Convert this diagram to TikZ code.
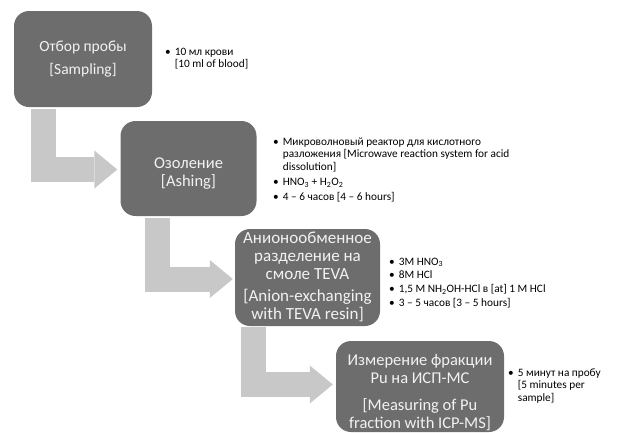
\documentclass[tikz,border=0pt]{standalone}
\usepackage{fontspec}
\setmainfont{Carlito}
\usetikzlibrary{arrows.meta,calc}
\definecolor{boxgray}{HTML}{6D6D6D}
\definecolor{arrowgray}{HTML}{C8C8C8}
\definecolor{boxtext}{HTML}{F2F2F2}
\begin{document}
\begin{tikzpicture}[x=1pt,y=-1pt,
  stepbox/.style={draw=none, fill=boxgray, rounded corners=15pt, inner sep=0pt},
  steptext/.style={text=boxtext, align=center, inner sep=0pt},
  flow/.style={draw=arrowgray, line width=25pt,
    -{Triangle[width=38pt 0 0, length=23pt 0 0, line width=0pt 0 0]}},
  notes/.style={anchor=base west, inner sep=0pt, font=\fontsize{11.3}{12.3}\selectfont}
]
\useasboundingbox (0,0) rectangle (618,432);

% boxes
\node[stepbox, minimum width=138pt, minimum height=96pt] (box1) at (83,59) {};
\node[stepbox, minimum width=136pt, minimum height=95pt] (box2) at (188.5,168.5) {};
\node[stepbox, minimum width=145pt, minimum height=97pt] (box3) at (307.5,277.5) {};
\node[stepbox, minimum width=168pt, minimum height=91pt] (box4) at (420,386.5) {};

% box texts
\node[steptext, font=\fontsize{15.5}{18}\selectfont] (t1) at ($(box1.center)+(0,0.5)$) {Отбор пробы\\[5pt][Sampling]};
\node[steptext, font=\fontsize{16.5}{18}\selectfont] (t2) at ($(box2.center)+(0,5.5)$) {Озоление\\[0pt][Ashing]};
\node[steptext, font=\fontsize{17}{18}\selectfont] (t3) at ($(box3.center)+(0,-0.5)$) {Анионообменное\\разделение на\\смоле TEVA\\[4pt][Anion-exchanging\\with TEVA resin]};
\node[steptext, font=\fontsize{16.5}{17.5}\selectfont] (t4) at ($(box4.center)+(0,6)$) {Измерение фракции\\Pu на ИСП-МС\\[10pt][Measuring of Pu\\fraction with ICP-MS]};

% bent arrows
\draw[flow] ($(box1.south west)+(29.5,2)$) |- ($(box2.west)+(-3,1)$);
\draw[flow] ($(box2.south west)+(37.5,2)$) |- ($(box3.west)+(-2,1.5)$);
\draw[flow] ($(box3.south west)+(19,1)$) |- ($(box4.west)+(-3,-2)$);

% notes
\node[notes] (n1) at (165,55.5) {\begin{tabular}[t]{@{}l@{\hspace{4pt}}l@{}}
\textbullet & 10 мл крови\\
 & [10 ml of blood]
\end{tabular}};
\node[notes] (n2) at (273,145.5) {\begin{tabular}[t]{@{}l@{\hspace{4pt}}l@{}}
\textbullet & Микроволновый реактор для кислотного\\
 & разложения [Microwave reaction system for acid\\
 & dissolution]\\[3pt]
\textbullet & HNO\textsubscript{3} + H\textsubscript{2}O\textsubscript{2}\\[3pt]
\textbullet & 4 – 6 часов [4 – 6 hours]
\end{tabular}};
\node[notes] (n3) at (389,265) {\begin{tabular}[t]{@{}l@{\hspace{4pt}}l@{}}
\textbullet & 3M HNO\textsubscript{3}\\[1.4pt]
\textbullet & 8M HCl\\[1.4pt]
\textbullet & 1,5 M NH\textsubscript{2}OH-HCl в [at] 1 M HCl\\[1.4pt]
\textbullet & 3 – 5 часов [3 – 5 hours]
\end{tabular}};
\node[notes] (n4) at (508,376.5) {\begin{tabular}[t]{@{}l@{\hspace{4pt}}l@{}}
\textbullet & 5 минут на пробу\\
 & [5 minutes per\\
 & sample]
\end{tabular}};
\end{tikzpicture}
\end{document}
